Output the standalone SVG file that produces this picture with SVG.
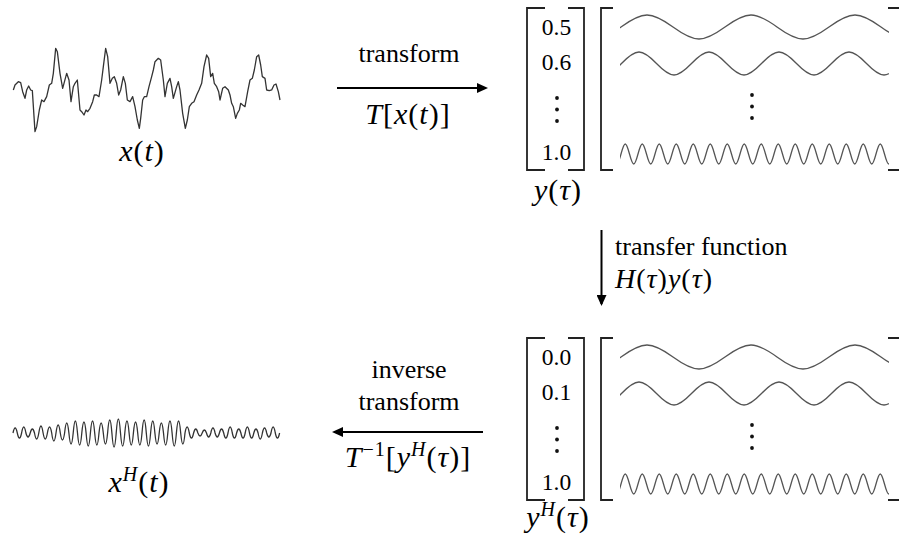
<svg xmlns="http://www.w3.org/2000/svg" xmlns:xlink="http://www.w3.org/1999/xlink" width="899" height="538" viewBox="0 0 899 538">
<style>
.t{font-family:'Liberation Serif','DejaVu Serif',serif;font-size:26px;fill:#000}
.d{font-family:'Liberation Serif','DejaVu Serif',serif;font-size:23.5px;fill:#000}
.m{font-family:'Liberation Serif','DejaVu Serif',serif;font-size:30px;letter-spacing:1px;fill:#000}
.ms{font-size:28px}
.i{font-style:italic}
.sup{font-size:20px}
.sig{fill:none;stroke:#333;stroke-width:1.3;stroke-linejoin:round}
.sig3{fill:none;stroke:#333;stroke-width:3.9;stroke-linejoin:round}
.wave{fill:none;stroke:#555;stroke-width:1.3}
.br{fill:none;stroke:#222;stroke-width:1.8}
.arr{fill:none;stroke:#000;stroke-width:2}
</style>
<defs>
<marker id="ah" viewBox="0 0 11 10" refX="9" refY="5" markerWidth="11" markerHeight="10" markerUnits="userSpaceOnUse" orient="auto">
<path d="M0,0 L11,5 L0,10 z" fill="#000"/>
</marker>
<clipPath id="wclip"><rect x="620" y="0" width="269" height="200"/></clipPath>
<g id="matrix">
<path class="br" d="M545,8 H527 V170 H545 M568,8 H584 V170 H568 M613,8 H601 V170 H613 M888,8 H899 M888,170 H899"/>
<g clip-path="url(#wclip)">
<path class="wave" d="M517,27 c22.07,-16 29.93,-16 52,0 s29.93,16 52,0 s29.93,-16 52,0 s29.93,16 52,0 s29.93,-16 52,0 s29.93,16 52,0 s29.93,-16 52,0 s29.93,16 52,0"/>
<path class="wave" d="M551.5,63.5 c14.85,-15.33 20.15,-15.33 35,0 s20.15,15.33 35,0 s20.15,-15.33 35,0 s20.15,15.33 35,0 s20.15,-15.33 35,0 s20.15,15.33 35,0 s20.15,-15.33 35,0 s20.15,15.33 35,0 s20.15,-15.33 35,0 s20.15,15.33 35,0"/>
<path class="wave" d="M604,154 c3.607,-13.33 4.893,-13.33 8.5,0 s4.893,13.33 8.5,0 s4.893,-13.33 8.5,0 s4.893,13.33 8.5,0 s4.893,-13.33 8.5,0 s4.893,13.33 8.5,0 s4.893,-13.33 8.5,0 s4.893,13.33 8.5,0 s4.893,-13.33 8.5,0 s4.893,13.33 8.5,0 s4.893,-13.33 8.5,0 s4.893,13.33 8.5,0 s4.893,-13.33 8.5,0 s4.893,13.33 8.5,0 s4.893,-13.33 8.5,0 s4.893,13.33 8.5,0 s4.893,-13.33 8.5,0 s4.893,13.33 8.5,0 s4.893,-13.33 8.5,0 s4.893,13.33 8.5,0 s4.893,-13.33 8.5,0 s4.893,13.33 8.5,0 s4.893,-13.33 8.5,0 s4.893,13.33 8.5,0 s4.893,-13.33 8.5,0 s4.893,13.33 8.5,0 s4.893,-13.33 8.5,0 s4.893,13.33 8.5,0 s4.893,-13.33 8.5,0 s4.893,13.33 8.5,0 s4.893,-13.33 8.5,0 s4.893,13.33 8.5,0 s4.893,-13.33 8.5,0 s4.893,13.33 8.5,0"/>
</g>
<g fill="#111">
<circle cx="557" cy="98" r="1.9"/><circle cx="557" cy="109.5" r="1.9"/><circle cx="557" cy="121" r="1.9"/>
<circle cx="752" cy="95" r="1.9"/><circle cx="752" cy="106.5" r="1.9"/><circle cx="752" cy="118" r="1.9"/>
</g>
</g>
</defs>

<g id="node-x">
<path class="sig3" transform="translate(0,30) scale(0.33333)" d="M40,180 L45,165 L55,155 L62,158 L68,185 L75,205 L80,180 L86,168 L92,180 L97,182 L105,305 L110,290 L118,240 L125,210 L132,215 L140,200 L148,165 L155,160 L160,130 L167,55 L172,65 L180,130 L188,175 L192,160 L200,130 L207,150 L213,215 L220,170 L225,160 L232,150 L240,240 L245,245 L252,255 L258,240 L263,245 L270,235 L278,215 L283,195 L290,195 L297,200 L305,150 L310,110 L317,55 L323,80 L330,160 L337,145 L343,140 L350,160 L356,195 L362,180 L370,140 L376,160 L382,210 L390,215 L398,200 L405,230 L412,270 L418,295 L422,265 L428,210 L433,200 L440,200 L447,170 L455,140 L460,120 L465,95 L475,85 L482,90 L490,150 L495,200 L502,160 L510,145 L515,170 L520,205 L530,170 L535,155 L540,180 L548,250 L556,295 L562,270 L568,230 L575,220 L582,215 L590,195 L597,180 L605,160 L612,110 L620,75 L626,85 L632,140 L638,130 L643,160 L650,170 L656,185 L660,210 L668,175 L675,170 L685,180 L690,195 L695,220 L700,230 L707,265 L712,250 L718,240 L722,220 L728,225 L735,230 L743,185 L750,150 L757,145 L763,120 L770,80 L776,75 L782,105 L787,140 L795,145 L800,180 L808,182 L815,180 L822,165 L828,162 L835,185 L840,210"/>
<text class="m" x="142" y="161" text-anchor="middle"><tspan class="i">x</tspan>(<tspan class="i">t</tspan>)</text>
</g>

<g id="node-y">
<use xlink:href="#matrix" href="#matrix"/>
<text class="d" x="556.5" y="35" text-anchor="middle">0.5</text>
<text class="d" x="556.5" y="70" text-anchor="middle">0.6</text>
<text class="d" x="556.5" y="160" text-anchor="middle">1.0</text>
<text class="m" x="558" y="200" text-anchor="middle"><tspan class="i">y</tspan>(<tspan class="i">τ</tspan>)</text>
</g>

<g id="node-yH">
<use xlink:href="#matrix" href="#matrix" y="330"/>
<text class="d" x="556.5" y="365" text-anchor="middle">0.0</text>
<text class="d" x="556.5" y="400" text-anchor="middle">0.1</text>
<text class="d" x="556.5" y="490" text-anchor="middle">1.0</text>
<text class="m" x="558" y="527" text-anchor="middle"><tspan class="i">y</tspan><tspan class="sup i" dy="-11">H</tspan><tspan dy="11">(</tspan><tspan class="i">τ</tspan>)</text>
</g>

<g id="node-xH">
<path class="sig" d="M13,433 q2.15,-10 4.3,0 q2.15,10 4.3,0 q2.15,-12 4.3,0 q2.15,8 4.3,0 q2.15,-8 4.3,0 q2.15,12 4.3,0 q2.15,-14 4.3,0 q2.15,12 4.3,0 q2.15,-12 4.3,0 q2.15,16 4.3,0 q2.15,-16 4.3,0 q2.15,14 4.3,0 q2.15,-20 4.3,0 q2.15,22 4.3,0 q2.15,-24 4.3,0 q2.15,24 4.3,0 q2.15,-22 4.3,0 q2.15,26 4.3,0 q2.15,-24 4.3,0 q2.15,24 4.3,0 q2.15,-20 4.3,0 q2.15,22 4.3,0 q2.15,-26 4.3,0 q2.15,28 4.3,0 q2.15,-28 4.3,0 q2.15,26 4.3,0 q2.15,-24 4.3,0 q2.15,24 4.3,0 q2.15,-22 4.3,0 q2.15,24 4.3,0 q2.15,-26 4.3,0 q2.15,26 4.3,0 q2.15,-24 4.3,0 q2.15,22 4.3,0 q2.15,-20 4.3,0 q2.15,24 4.3,0 q2.15,-24 4.3,0 q2.15,26 4.3,0 q2.15,-24 4.3,0 q2.15,22 4.3,0 q2.15,-12 4.3,0 q2.15,10 4.3,0 q2.15,-8 4.3,0 q2.15,6 4.3,0 q2.15,-6 4.3,0 q2.15,8 4.3,0 q2.15,-10 4.3,0 q2.15,8 4.3,0 q2.15,-8 4.3,0 q2.15,10 4.3,0 q2.15,-12 4.3,0 q2.15,10 4.3,0 q2.15,-8 4.3,0 q2.15,10 4.3,0 q2.15,-12 4.3,0 q2.15,10 4.3,0 q2.15,-8 4.3,0 q2.15,12 4.3,0 q2.15,-10 4.3,0 q2.15,8 4.3,0 q2.15,-12 4.3,0 q2.15,10 4.3,0"/>
<text class="m" x="139" y="492" text-anchor="middle"><tspan class="i">x</tspan><tspan class="sup i" dy="-11">H</tspan><tspan dy="11">(</tspan><tspan class="i">t</tspan>)</text>
</g>

<g id="connectors">
<g id="edge-transform">
<line class="arr" x1="337" y1="88" x2="486" y2="88" marker-end="url(#ah)"/>
<text class="t" x="409" y="62" text-anchor="middle">transform</text>
<text class="m" x="408" y="124" text-anchor="middle"><tspan class="i">T</tspan>[<tspan class="i">x</tspan>(<tspan class="i">t</tspan>)]</text>
</g>
<g id="edge-transfer">
<line class="arr" x1="601.5" y1="230" x2="601.5" y2="304" marker-end="url(#ah)"/>
<text class="t" x="615" y="255">transfer function</text>
<text class="m ms" x="615" y="288"><tspan class="i">H</tspan>(<tspan class="i">τ</tspan>)<tspan class="i">y</tspan>(<tspan class="i">τ</tspan>)</text>
</g>
<g id="edge-inverse">
<line class="arr" x1="483" y1="432" x2="334" y2="432" marker-end="url(#ah)"/>
<text class="t" x="409" y="378" text-anchor="middle">inverse</text>
<text class="t" x="409" y="410" text-anchor="middle">transform</text>
<text class="m" x="408" y="467" text-anchor="middle"><tspan class="i">T</tspan><tspan class="sup" dy="-11">−1</tspan><tspan dy="11">[</tspan><tspan class="i">y</tspan><tspan class="sup i" dy="-11">H</tspan><tspan dy="11">(</tspan><tspan class="i">τ</tspan>)]</text>
</g>
</g>
</svg>
